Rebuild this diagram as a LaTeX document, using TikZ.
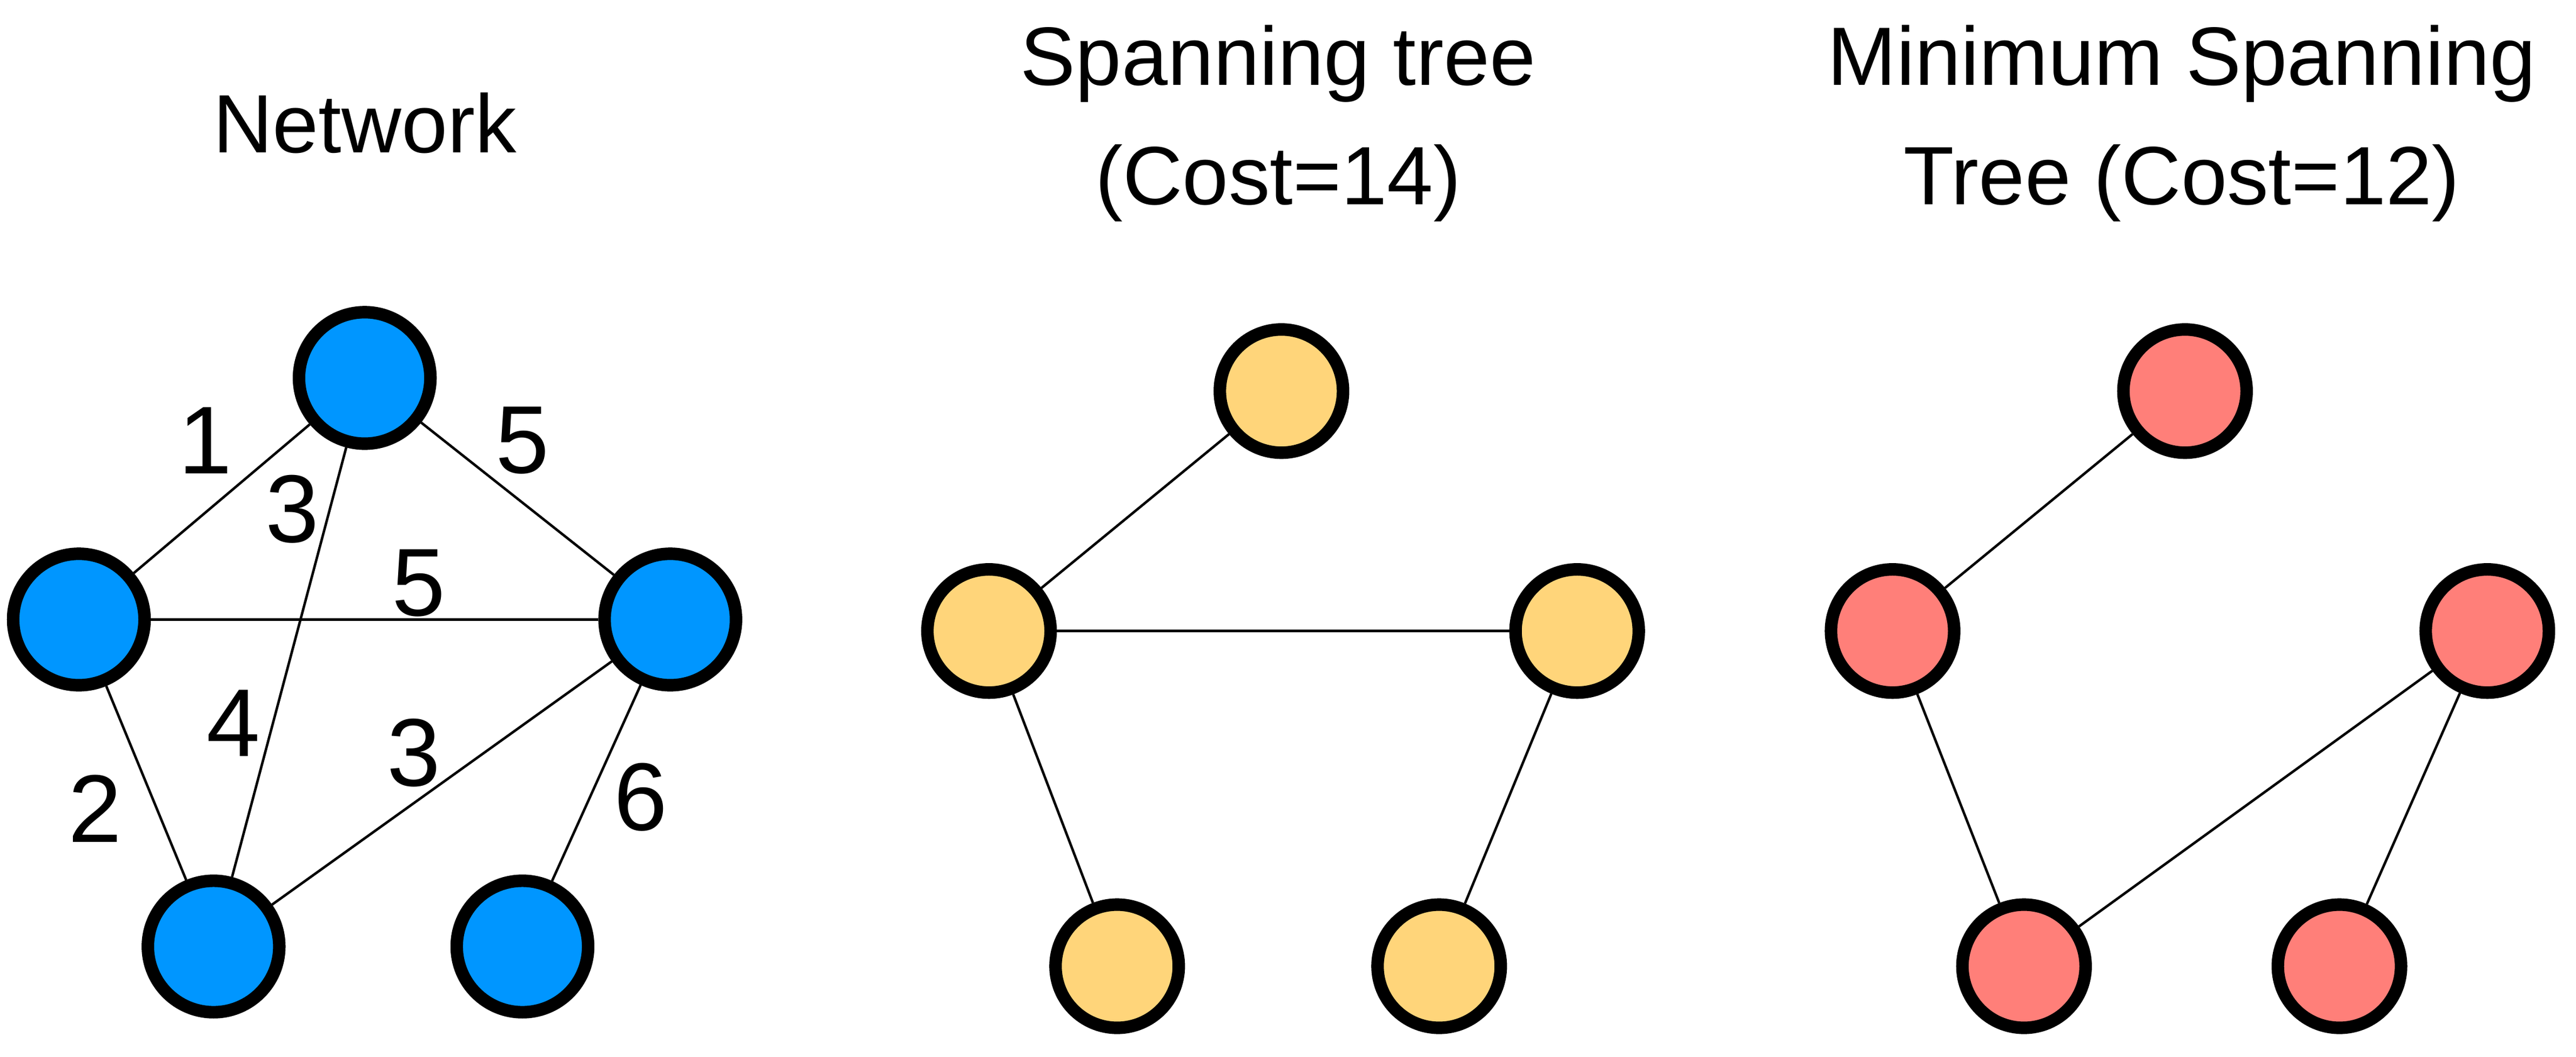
\documentclass[tikz,border=0pt]{standalone}
\usepackage{fontspec}
\setmainfont{Liberation Sans}
\definecolor{nblue}{HTML}{0096FF}
\definecolor{nyel}{HTML}{FFD57A}
\definecolor{nred}{HTML}{FF7F79}
\begin{document}
\begin{tikzpicture}[x=0.03cm,y=-0.03cm,
  v/.style={circle,draw=black,line width=6.5pt,minimum size=2.25cm,inner sep=0pt},
  vb/.style={v,minimum size=2.4cm},
  e/.style={line width=1.3pt},
  lab/.style={font=\fontsize{50}{60}\selectfont},
  ttl/.style={font=\fontsize{43}{62}\selectfont,align=center}]
\useasboundingbox (0,0) rectangle (1568,643);
% Network
\node[vb,fill=nblue] (a1) at (222,230) {};
\node[vb,fill=nblue] (a2) at (48,377) {};
\node[vb,fill=nblue] (a3) at (408,377) {};
\node[vb,fill=nblue] (a4) at (130,576) {};
\node[vb,fill=nblue] (a5) at (318,576) {};
\draw[e] (a1)--(a2); \draw[e] (a1)--(a4); \draw[e] (a1)--(a3);
\draw[e] (a2)--(a3); \draw[e] (a2)--(a4); \draw[e] (a4)--(a3); \draw[e] (a3)--(a5);
\node[lab] (l1) at (125,268) {1};
\node[lab] (l2) at (178,310) {3};
\node[lab] (l3) at (318,268) {5};
\node[lab] (l4) at (255,355) {5};
\node[lab] (l5) at (142,440) {4};
\node[lab] (l6) at (252,458) {3};
\node[lab] (l7) at (58,492) {2};
\node[lab] (l8) at (390,485) {6};
\node[ttl] (t1) at (222,75) {Network};
% Spanning tree
\node[v,fill=nyel] (b1) at (780,238) {};
\node[v,fill=nyel] (b2) at (602,384) {};
\node[v,fill=nyel] (b3) at (960,384) {};
\node[v,fill=nyel] (b4) at (680,588) {};
\node[v,fill=nyel] (b5) at (876,588) {};
\draw[e] (b1)--(b2); \draw[e] (b2)--(b3); \draw[e] (b2)--(b4); \draw[e] (b3)--(b5);
\node[ttl] (t2) at (778,75) {Spanning tree\\(Cost=14)};
% MST
\node[v,fill=nred] (c1) at (1330,238) {};
\node[v,fill=nred] (c2) at (1152,384) {};
\node[v,fill=nred] (c3) at (1514,384) {};
\node[v,fill=nred] (c4) at (1232,588) {};
\node[v,fill=nred] (c5) at (1424,588) {};
\draw[e] (c1)--(c2); \draw[e] (c2)--(c4); \draw[e] (c4)--(c3); \draw[e] (c3)--(c5);
\node[ttl] (t3) at (1328,75) {Minimum Spanning\\Tree (Cost=12)};
\end{tikzpicture}
\end{document}
